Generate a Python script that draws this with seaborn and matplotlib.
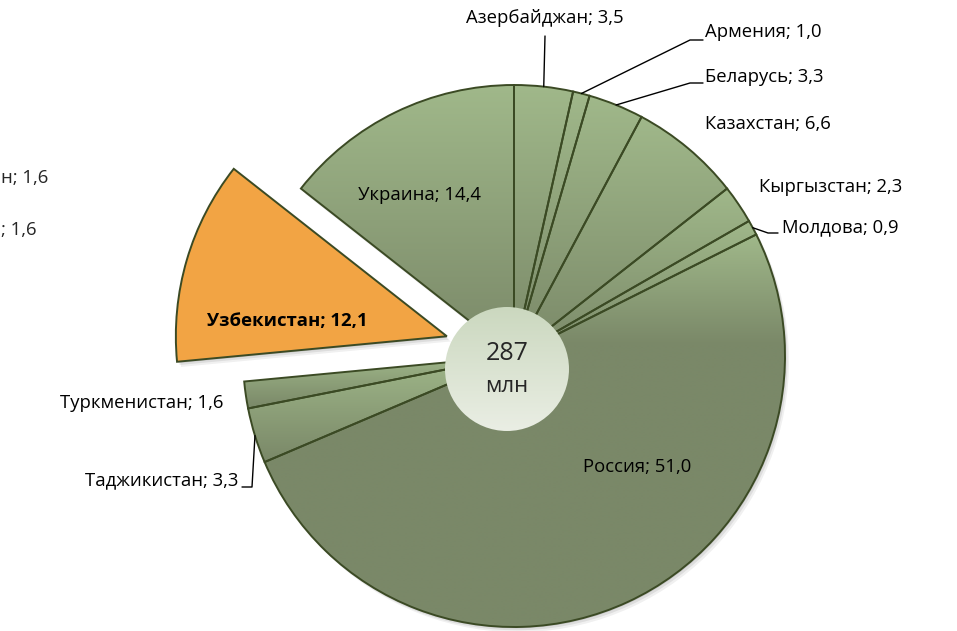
"""Pie chart of CIS population shares with exploded Uzbekistan slice."""

import numpy as np
import matplotlib.pyplot as plt
import seaborn as sns
from matplotlib.patches import Wedge, Circle
from matplotlib.colors import to_rgb

countries = ["Азербайджан", "Армения", "Беларусь", "Казахстан", "Кыргызстан", "Молдова",
             "Россия", "Таджикистан", "Туркменистан", "Узбекистан", "Украина"]
shares = [3.5, 1.0, 3.3, 6.6, 2.3, 0.9, 51.0, 3.3, 1.6, 12.1, 14.4]
highlight = "Узбекистан"
total_text = "287"
unit_text = "млн"
# tails of labels from a neighbouring chart, cut off at the left edge
stray_labels = ["н; 1,6", "; 1,6"]

W, H = 957, 631

# label layout in picture pixels: (x, y, ha, leader bend points or None)
layout = {
    "Азербайджан": (545, 18, "center", [(545, 36)]),
    "Армения": (705, 32, "left", [(690, 40), (703, 40)]),
    "Беларусь": (705, 77, "left", [(690, 83), (703, 83)]),
    "Казахстан": (705, 124, "left", None),
    "Кыргызстан": (759, 187, "left", None),
    "Молдова": (782, 227, "left", [(768, 233), (778, 233)]),
    "Россия": (637, 467, "center", None),
    "Таджикистан": (238, 480, "right", [(252, 487), (242, 487)]),
    "Туркменистан": (223, 403, "right", None),
    "Узбекистан": (287, 321, "center", None),
    "Украина": (420, 195, "center", None),
}

sns.set_theme(style="white")
plt.rcParams["font.family"] = ["Open Sans", "DejaVu Sans"]

fig = plt.figure(figsize=(W / 100, H / 100), dpi=100)
ax = fig.add_axes([0, 0, 1, 1])

cx, cy, R = 514, H - 356, 271
light, dark, orange, edge = "#a0b88a", "#7a8868", "#f2a444", "#3b4a24"
FS = 13.3

explode = [70 if c == highlight else 0 for c in countries]
colors = [orange if c == highlight else dark for c in countries]
wedges, _ = ax.pie(shares, explode=explode, colors=colors, startangle=90,
                   counterclock=False, center=(cx, cy), radius=R,
                   wedgeprops=dict(edgecolor=edge, linewidth=1.4))


def extents(patch):
    path = patch.get_patch_transform().transform_path(patch.get_path())
    return path.get_extents().get_points()


def shade(patch, top, bottom, reach, z):
    (x0, y0), (x1, y1) = extents(patch)
    ys = np.linspace(y1, y0, 300)
    t = np.clip((y1 - ys) / reach, 0, 1)[:, None, None]
    img = (1 - t) * np.array(to_rgb(top)) + t * np.array(to_rgb(bottom))
    im = ax.imshow(img, extent=(x0, x1, y0, y1), origin="upper", aspect="auto",
                   zorder=z, interpolation="bilinear")
    im.set_clip_path(patch)


for name, w in zip(countries, wedges):
    # soft shadow
    for k, a in [(1, 0.10), (2.5, 0.08), (4, 0.06)]:
        s = Wedge((w.center[0] + k, w.center[1] - k * 1.3), w.r, w.theta1, w.theta2,
                  facecolor="black", alpha=a, linewidth=0, zorder=0.2)
        ax.add_patch(s)
    w.set_zorder(2)
    if name == highlight:
        continue
    (x0, y0), (x1, y1) = extents(w)
    h = y1 - y0
    w.set_facecolor("none")
    shade(w, light, dark, h if h < 300 else 110, 1.5)

# labels
for name, val, w in zip(countries, shares, wedges):
    x, y, ha, bends = layout[name]
    txt = f"{name}; {val:.1f}".replace(".", ",")
    ax.text(x, H - y, txt, ha=ha, va="center", fontsize=FS, color="black",
            fontweight="bold" if name == highlight else "normal", zorder=10)
    if bends:
        mid = np.deg2rad((w.theta1 + w.theta2) / 2)
        px = [w.center[0] + w.r * np.cos(mid)] + [b[0] for b in bends]
        py = [w.center[1] + w.r * np.sin(mid)] + [H - b[1] for b in bends]
        ax.plot(px, py, color="black", linewidth=1, zorder=9)

# centre disc
disc = Circle((507, H - 369), 62, facecolor="none", edgecolor="none", zorder=5)
ax.add_patch(disc)
shade(disc, "#cbd8bf", "#eaeee4", 124, 4.5)
ax.text(507, H - 354, total_text, ha="center", va="center", fontsize=18, zorder=10)
ax.text(507, H - 387, unit_text, ha="center", va="center", fontsize=16, zorder=10)

ax.text(1, H - 178, stray_labels[0], ha="left", va="center", fontsize=FS, zorder=10)
ax.text(1, H - 230, stray_labels[1], ha="left", va="center", fontsize=FS, zorder=10)

ax.set_xlim(0, W)
ax.set_ylim(0, H)
ax.set_aspect("equal")
ax.axis("off")
fig.savefig("out.png", dpi=100)
